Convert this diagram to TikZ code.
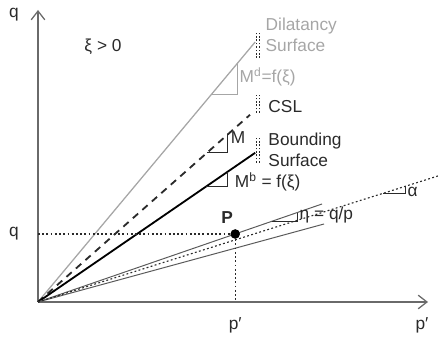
\documentclass[tikz,border=0pt]{standalone}
\usepackage{fontspec}
\setmainfont{Liberation Sans}
\usetikzlibrary{arrows.meta,calc}
\definecolor{AxisGray}{HTML}{6A6A6A}
\definecolor{DilGray}{HTML}{A6A6A6}
\definecolor{LineGray}{HTML}{5A5A5A}
\definecolor{TextDark}{HTML}{2A2A2A}

\begin{document}
\begin{tikzpicture}[
  every node/.style={font=\fontsize{12.3}{14.5}\selectfont, text=TextDark, inner sep=1pt},
  ax/.style={-{Straight Barb[length=2.2mm,width=3.4mm]}, AxisGray, line width=0.9pt},
  guide/.style={dash pattern=on 1.3pt off 1.7pt, TextDark, line width=0.8pt},
  tri/.style={TextDark, line width=0.7pt},
  dbl/.style={dash pattern=on 1.2pt off 1.2pt, TextDark, line width=0.7pt},
]
  \useasboundingbox (-0.95,-0.95) rectangle (10.0,7.55);

  % axes
  \coordinate (O) at (0,0);
  \coordinate (qtop) at (0,7.3);
  \coordinate (pend) at (9.75,0);
  \draw[ax] (O) -- (qtop);
  \draw[ax] (O) -- (pend);
  \node (qax) at (-0.6,7.18) {q};
  \node (pax) at (9.6,-0.58) {p′};
  \node[anchor=west] (xi) at (1.12,6.38) {ξ > 0};

  % surfaces
  \coordinate (dil) at (5.43,6.5);
  \coordinate (csl) at (5.3,4.68);
  \coordinate (bnd) at (5.43,3.73);
  \coordinate (up)  at (7.1,2.45);
  \coordinate (lo)  at (7.15,1.95);
  \coordinate (alp) at (10.0,3.15);
  \draw[DilGray, line width=0.9pt] (O) -- (dil);
  \draw[TextDark, line width=1.3pt, dash pattern=on 5pt off 4pt] (O) -- (csl);
  \draw[black, line width=1.3pt] (O) -- (bnd);
  \draw[LineGray, line width=0.7pt] (O) -- (up);
  \draw[LineGray, line width=0.7pt] (O) -- (lo);
  \draw[guide] (O) -- (alp);

  % slope triangles
  \draw[tri, DilGray] ($(O)!0.797!(dil)$) -| ($(O)!0.917!(dil)$);
  \draw[tri] ($(O)!0.797!(csl)$) -| ($(O)!0.896!(csl)$);
  \draw[tri] ($(O)!0.772!(bnd)$) -| ($(O)!0.871!(bnd)$);
  \draw[tri] ($(O)!0.824!(up)$) -| ($(O)!0.913!(up)$);
  \draw[tri] ($(O)!0.863!(alp)$) -| ($(O)!0.918!(alp)$);

  % end marks
  \foreach \yb/\yt in {6.1/6.75, 4.73/5.18, 3.48/4.1} {
    \draw[dbl] (5.45,\yb) -- (5.45,\yt);
    \draw[dbl] (5.53,\yb) -- (5.53,\yt);
  }

  % labels
  \node[anchor=west, align=left, text=DilGray] (dillab) at (5.65,6.68) {Dilatancy\\Surface};
  \node[anchor=west, text=DilGray] (mdlab) at (5.0,5.63) {M\textsuperscript{d}=f(ξ)};
  \node[anchor=west] (csllab) at (5.72,4.88) {CSL};
  \node[anchor=west] (mlab) at (4.78,4.12) {M};
  \node[anchor=west, align=left] (bndlab) at (5.72,3.8) {Bounding\\Surface};
  \node[anchor=west] (mblab) at (4.88,3.0) {M\textsuperscript{b} = f(ξ)};
  \node[anchor=west] (etalab) at (6.5,2.18) {η = q/p};
  \node[anchor=west] (alab) at (9.2,2.75) {α};

  % stress point
  \coordinate (P) at (4.93,1.70);
  \draw[guide] (O |- P) -- (P) -- (P |- O);
  \fill[black] (P) circle (0.12);
  \node[font=\fontsize{12.3}{14.5}\selectfont\bfseries] (plab) at (4.73,2.12) {P};
  \node (qlab) at (-0.6,1.70) {q};
  \node (pplab) at (4.93,-0.58) {p′};
\end{tikzpicture}
\end{document}
